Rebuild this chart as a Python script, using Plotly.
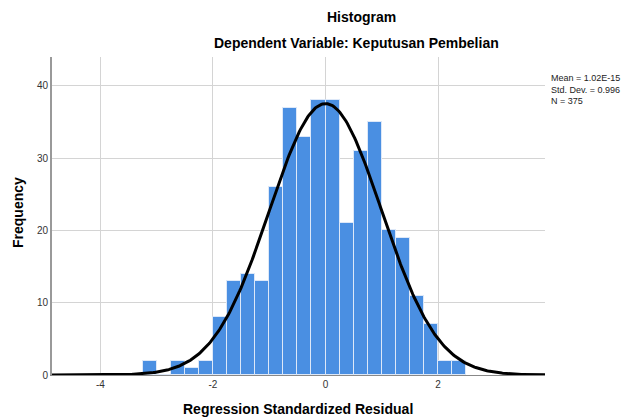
import numpy as np
import plotly.graph_objects as go

# Data (bin width 0.25)
bin_starts = [-3.25, -3.0, -2.75, -2.5, -2.25, -2.0, -1.75, -1.5, -1.25, -1.0, -0.75,
              -0.5, -0.25, 0.0, 0.25, 0.5, 0.75, 1.0, 1.25, 1.5, 1.75, 2.0, 2.25]
counts = [2, 0, 2, 1, 2, 8, 13, 14, 13, 26, 37,
          33, 38, 38, 21, 31, 35, 20, 19, 11, 7, 2, 2]
bin_width = 0.25
stat_mean = 1.02e-15
stat_sd = 0.996
stat_n = 375
x_ticks = [-4, -2, 0, 2]
y_ticks = [0, 10, 20, 30, 40]

FONT = "Arial, Liberation Sans, sans-serif"

# layout geometry (pixels)
W, H = 621, 418
L, R, T, B = 52, 76, 57, 43
pw, ph = W - L - R, H - T - B

centers = [s + bin_width / 2 for s in bin_starts]

x_lo, x_hi = -4.86, 3.90
xc = np.linspace(x_lo, x_hi, 400)
yc = stat_n * bin_width / (stat_sd * np.sqrt(2 * np.pi)) * np.exp(-0.5 * ((xc - stat_mean) / stat_sd) ** 2)

fig = go.Figure()
fig.add_trace(go.Bar(
    x=centers, y=counts, width=bin_width,
    marker=dict(color="#4a8fe2", line=dict(color="#dde8f8", width=1)),
    hoverinfo="x+y", showlegend=False,
))
fig.add_trace(go.Scatter(
    x=xc, y=yc, mode="lines",
    line=dict(color="black", width=3), showlegend=False, cliponaxis=False,
))


def px_x(p):
    return (p - L) / pw


def px_y(p):
    return (H - B - p) / ph


annotations = [
    dict(text="<b>Histogram</b>", x=px_x(361), y=px_y(17), xref="paper", yref="paper",
         showarrow=False, font=dict(family=FONT, size=14, color="black"),
         xanchor="center", yanchor="middle"),
    dict(text="<b>Dependent Variable: Keputusan Pembelian</b>", x=px_x(356), y=px_y(43),
         xref="paper", yref="paper", showarrow=False,
         font=dict(family=FONT, size=14, color="black"), xanchor="center", yanchor="middle"),
    dict(text="Mean = 1.02E-15<br>Std. Dev. = 0.996<br>N = 375", x=px_x(549), y=px_y(71),
         xref="paper", yref="paper", showarrow=False, align="left",
         font=dict(family=FONT, size=9, color="#222"), xanchor="left", yanchor="top"),
    dict(text="<b>Frequency</b>", x=px_x(18), y=px_y(213), xref="paper", yref="paper",
         showarrow=False, textangle=-90, font=dict(family=FONT, size=14, color="black"),
         xanchor="center", yanchor="middle"),
    dict(text="<b>Regression Standardized Residual</b>", x=px_x(298), y=px_y(409),
         xref="paper", yref="paper", showarrow=False,
         font=dict(family=FONT, size=14, color="black"), xanchor="center", yanchor="middle"),
]

fig.update_layout(
    width=W, height=H,
    margin=dict(l=L, r=R, t=T, b=B, pad=0),
    paper_bgcolor="white", plot_bgcolor="white",
    bargap=0,
    font=dict(family=FONT, size=10, color="#333"),
    annotations=annotations,
    xaxis=dict(range=[x_lo, x_hi], tickvals=x_ticks, ticktext=[str(v) for v in x_ticks],
               showgrid=True, gridcolor="#d4d4d4", gridwidth=1, zeroline=False,
               showline=True, linecolor="#888", linewidth=1, ticks="", ticklen=0,
               tickfont=dict(family=FONT, size=10, color="#333")),
    yaxis=dict(range=[0, 44], tickvals=y_ticks, ticktext=[str(v) for v in y_ticks],
               showgrid=True, gridcolor="#d4d4d4", gridwidth=1, zeroline=False,
               showline=True, linecolor="#999", linewidth=2, ticks="", ticklen=0,
               tickfont=dict(family=FONT, size=10, color="#333")),
)

fig.write_html("out.html", config={"displayModeBar": False},
               post_script="document.body.style.margin='0px';document.body.style.overflow='hidden';")
